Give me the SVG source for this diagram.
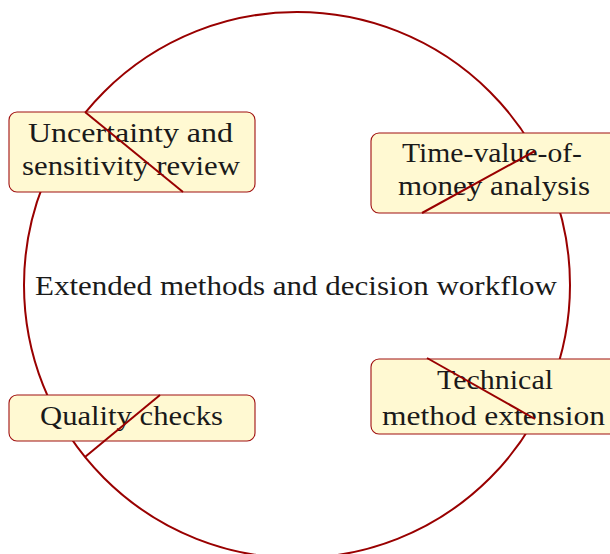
<svg xmlns="http://www.w3.org/2000/svg" width="610" height="554" viewBox="0 0 610 554">
  <style>
    .ring { fill: none; stroke: #990000; stroke-width: 2; }
    .box { fill: #fff9d2; stroke: #a01010; stroke-width: 1.1; }
    .lbl { font-family: "Liberation Serif", "DejaVu Serif", serif; font-size: 28px; fill: #1a1a1a; text-anchor: start; }
    .link { stroke: #990000; stroke-width: 2; fill: none; stroke-linecap: butt; }
  </style>

  <!-- workflow ring -->
  <circle class="ring" cx="297" cy="285" r="273"/>

  <!-- centre title -->
  <text class="lbl" x="35" y="294.5" textLength="522" lengthAdjust="spacingAndGlyphs">Extended methods and decision workflow</text>

  <g id="node-uncertainty">
    <rect class="box" x="9" y="112" width="246" height="80" rx="8"/>
    <text class="lbl" x="28" y="141.5" textLength="205" lengthAdjust="spacingAndGlyphs">Uncertainty and</text>
    <text class="lbl" x="22" y="175" textLength="218" lengthAdjust="spacingAndGlyphs">sensitivity review</text>
  </g>

  <g id="node-tvm">
    <rect class="box" x="371" y="133" width="246" height="80" rx="8"/>
    <text class="lbl" x="402" y="161.5" textLength="180" lengthAdjust="spacingAndGlyphs">Time-value-of-</text>
    <text class="lbl" x="398" y="195" textLength="192" lengthAdjust="spacingAndGlyphs">money analysis</text>
  </g>

  <g id="node-quality">
    <rect class="box" x="9" y="395" width="246" height="46" rx="8"/>
    <text class="lbl" x="40" y="425" textLength="183" lengthAdjust="spacingAndGlyphs">Quality checks</text>
  </g>

  <g id="node-technical">
    <rect class="box" x="371" y="359" width="246" height="75" rx="8"/>
    <text class="lbl" x="437" y="389" textLength="116" lengthAdjust="spacingAndGlyphs">Technical</text>
    <text class="lbl" x="382" y="425" textLength="223" lengthAdjust="spacingAndGlyphs">method extension</text>
  </g>

  <!-- connectors -->
  <g id="connectors">
    <line class="link" x1="85" y1="112" x2="183" y2="192"/>
    <line class="link" x1="535" y1="151" x2="422" y2="213"/>
    <line class="link" x1="535" y1="419" x2="427" y2="358"/>
    <line class="link" x1="160" y1="395" x2="85" y2="457"/>
  </g>
</svg>
